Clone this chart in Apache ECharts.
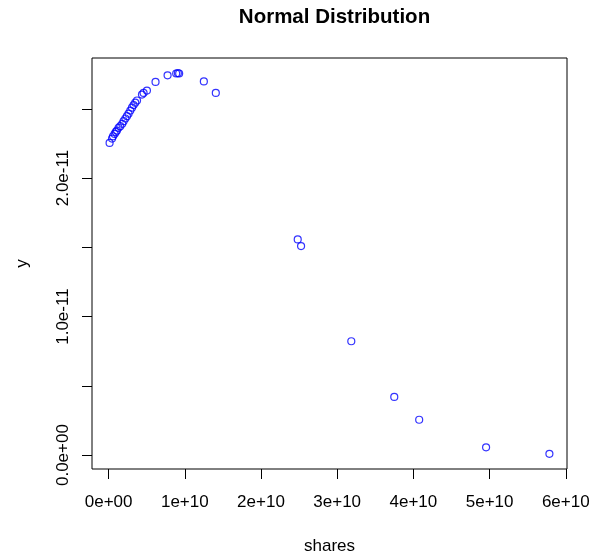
<!DOCTYPE html>
<html>
<head>
    <meta charset="utf-8">
    <title>Normal Distribution</title>
    <script src="https://cdn.jsdelivr.net/npm/echarts@6/dist/echarts.min.js"></script>
    <style>
        html, body { margin: 0; padding: 0; background: #fff; }
    </style>
</head>
<body>
    <div id="main" style="width: 597px;height:557px;"></div>
    <script type="text/javascript">
        // values
        var shares = [
            0.013e10, 0.045e10, 0.058e10, 0.079e10, 0.095e10, 0.110e10, 0.131e10, 0.153e10,
            0.179e10, 0.197e10, 0.220e10, 0.241e10, 0.262e10, 0.285e10, 0.307e10, 0.328e10,
            0.350e10, 0.373e10, 0.438e10, 0.459e10, 0.503e10, 0.616e10, 0.774e10, 0.887e10,
            0.909e10, 0.926e10, 1.250e10, 1.407e10, 2.482e10, 2.526e10, 3.185e10, 3.749e10,
            4.076e10, 4.954e10, 5.785e10
        ];
        var y = [
            2.254e-11, 2.285e-11, 2.302e-11, 2.319e-11, 2.333e-11, 2.343e-11, 2.363e-11, 2.375e-11,
            2.392e-11, 2.411e-11, 2.430e-11, 2.447e-11, 2.465e-11, 2.487e-11, 2.508e-11, 2.527e-11,
            2.544e-11, 2.560e-11, 2.603e-11, 2.615e-11, 2.632e-11, 2.694e-11, 2.742e-11, 2.755e-11,
            2.757e-11, 2.755e-11, 2.698e-11, 2.615e-11, 1.557e-11, 1.509e-11, 0.822e-11, 0.420e-11,
            0.255e-11, 0.056e-11, 0.0094e-11
        ];

        var xTicks = [0, 1e10, 2e10, 3e10, 4e10, 5e10, 6e10];
        var xTickLabels = ['0e+00', '1e+10', '2e+10', '3e+10', '4e+10', '5e+10', '6e+10'];
        var yTicks = [0, 0.5e-11, 1e-11, 1.5e-11, 2e-11, 2.5e-11];
        var yLabelTicks = [0, 1e-11, 2e-11];
        var yTickLabels = ['0.0e+00', '1.0e-11', '2.0e-11'];

        var font = 'Liberation Sans, Arial, sans-serif';

        // R style axis extents: data range padded by 4% each side
        function padded(arr) {
            var lo = Math.min.apply(null, arr), hi = Math.max.apply(null, arr);
            var p = (hi - lo) * 0.04;
            return [lo - p, hi + p];
        }
        var xr = padded(shares), yr = padded(y);

        function lookup(vals, labels, v) {
            for (var i = 0; i < vals.length; i++) {
                if (Math.abs(vals[i] - v) < Math.abs(vals[1] - vals[0]) * 1e-6) return labels[i];
            }
            return '';
        }

        var points = shares.map(function (s, i) { return [s, y[i]]; });

        var myChart = echarts.init(document.getElementById('main'));
        var option = {
            animation: false,
            backgroundColor: '#fff',
            title: {
                text: 'Normal Distribution',
                left: 329.5,
                top: 2,
                textAlign: 'center',
                textStyle: { fontFamily: font, fontWeight: 'bold', fontSize: 20.5, color: '#000' }
            },
            grid: {
                left: 92, top: 58, width: 475, height: 411,
                outerBoundsMode: 'none',
                containLabel: false,
                show: true, borderColor: '#000', borderWidth: 1, backgroundColor: 'transparent'
            },
            xAxis: {
                type: 'value',
                min: xr[0], max: xr[1],
                name: 'shares',
                nameLocation: 'middle',
                nameGap: 69,
                nameTextStyle: { fontFamily: font, fontSize: 17, color: '#000' },
                axisLine: { show: false, onZero: false },
                splitLine: { show: false },
                axisTick: { show: true, customValues: xTicks, length: 10, lineStyle: { color: '#000' } },
                axisLabel: {
                    customValues: xTicks,
                    margin: 25,
                    fontFamily: font, fontSize: 17, color: '#000',
                    formatter: function (v) { return lookup(xTicks, xTickLabels, v); }
                }
            },
            yAxis: {
                type: 'value',
                min: yr[0], max: yr[1],
                name: 'y',
                nameLocation: 'middle',
                nameGap: 61,
                nameTextStyle: { fontFamily: font, fontSize: 17, color: '#000' },
                axisLine: { show: false, onZero: false },
                splitLine: { show: false },
                axisTick: { show: true, customValues: yTicks, length: 10, lineStyle: { color: '#000' } },
                axisLabel: {
                    customValues: yLabelTicks,
                    rotate: 90,
                    margin: 20,
                    fontFamily: font, fontSize: 17, color: '#000',
                    formatter: function (v) { return lookup(yLabelTicks, yTickLabels, v); }
                }
            },
            series: [{
                type: 'scatter',
                data: points,
                symbol: 'circle',
                symbolSize: 7,
                itemStyle: { color: 'rgba(0,0,0,0)', borderColor: '#0000ff', borderWidth: 1.2 }
            }]
        };
        myChart.setOption(option);
    </script>
</body>
</html>
